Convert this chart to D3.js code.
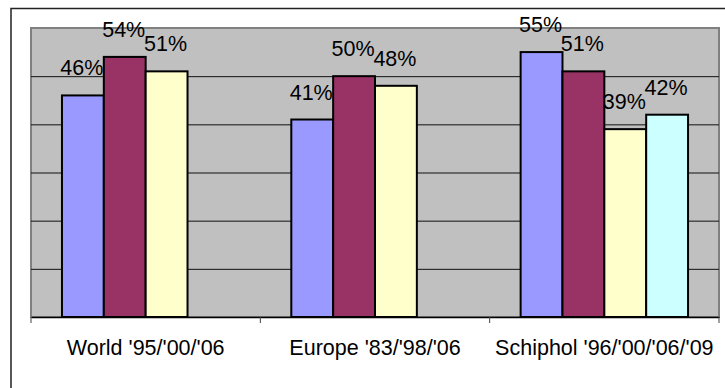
<!DOCTYPE html>
<html>
<head>
<meta charset="utf-8">
<script src="https://cdn.jsdelivr.net/npm/d3@7"></script>
<style>
  html, body { margin: 0; padding: 0; background: #fff; }
  svg { display: block; }
  text { font-family: "Liberation Sans", Arial, sans-serif; }
</style>
</head>
<body>
<svg id="chart" width="725" height="388"></svg>
<script>
// Categories along the x axis
const categories = ["World '95/'00/'06", "Europe '83/'98/'06", "Schiphol '96/'00/'06/'09"];

// Share (%) per survey year; each category has up to four surveys
const survey1 = [46, 41, 55];
const survey2 = [54, 50, 51];
const survey3 = [51, 48, 39];
const survey4 = [null, null, 42];

const seriesKeys = ["survey1", "survey2", "survey3", "survey4"];
const seriesValues = [survey1, survey2, survey3, survey4];
const seriesColors = ["#9999FF", "#993366", "#FFFFCC", "#CCFFFF"];

// Gridline positions (percent)
const gridTicks = [0, 10, 20, 30, 40, 50, 60];

const svg = d3.select("#chart");
const fontSize = 21.5;

// Plot area bounds
const plotLeft = 31, plotRight = 719, plotTop = 28, plotBottom = 317;

// Chart area frame
svg.append("rect")
  .attr("x", 11).attr("y", 8.5)
  .attr("width", 725).attr("height", 400)
  .attr("fill", "#fff")
  .attr("stroke", "#222").attr("stroke-width", 1.5);

const x0 = d3.scaleBand().domain(categories).range([plotLeft, plotRight]).paddingInner(0).paddingOuter(0);
const x1 = d3.scaleBand().domain(seriesKeys).range([0, x0.bandwidth()]).paddingInner(0).paddingOuter(0.74);
const y = d3.scaleLinear().domain([0, 60]).range([plotBottom, plotTop]);

// Plot area background and border
svg.append("rect")
  .attr("x", plotLeft).attr("y", plotTop)
  .attr("width", plotRight - plotLeft).attr("height", plotBottom - plotTop)
  .attr("fill", "#C0C0C0")
  .attr("stroke", "#808080").attr("stroke-width", 2);

// Horizontal gridlines
svg.append("g")
  .attr("transform", `translate(${plotLeft},0)`)
  .call(d3.axisLeft(y).tickValues(gridTicks.slice(1, -1)).tickSize(-(plotRight - plotLeft)).tickFormat(""))
  .call(g => g.select(".domain").remove())
  .call(g => g.selectAll(".tick line").attr("stroke", "#111").attr("stroke-width", 1));

// Bars
const rows = categories.map((c, i) => ({
  category: c,
  values: seriesKeys.map((k, j) => ({ key: k, value: seriesValues[j][i], color: seriesColors[j] }))
    .filter(d => d.value != null)
}));

const groups = svg.append("g").selectAll("g")
  .data(rows).join("g")
  .attr("transform", d => `translate(${x0(d.category)},0)`);

groups.selectAll("rect")
  .data(d => d.values).join("rect")
  .attr("x", d => x1(d.key))
  .attr("y", d => y(d.value))
  .attr("width", x1.bandwidth())
  .attr("height", d => y(0) - y(d.value))
  .attr("fill", d => d.color)
  .attr("stroke", "#000").attr("stroke-width", 2);

// Value labels
groups.selectAll("text")
  .data(d => d.values).join("text")
  .attr("x", d => x1(d.key) + x1.bandwidth() / 2 - 1)
  .attr("y", d => y(d.value) - 20)
  .attr("text-anchor", "middle")
  .attr("font-size", fontSize)
  .attr("fill", "#000")
  .text(d => d.value + "%");

// Category axis
const xAxis = svg.append("g")
  .attr("transform", `translate(0,${plotBottom})`)
  .call(d3.axisBottom(x0).tickSize(0).tickPadding(0));
xAxis.select(".domain").attr("stroke", "#000").attr("stroke-width", 1.5);
xAxis.selectAll(".tick line").remove();
xAxis.selectAll(".tick text")
  .attr("dy", null).attr("y", 38)
  .attr("font-size", fontSize)
  .attr("font-family", "Liberation Sans, Arial, sans-serif")
  .attr("fill", "#000");

// Category boundary tick marks
const boundaries = categories.map(c => x0(c)).concat([x0.range()[1]]);
xAxis.append("g").selectAll("line")
  .data(boundaries).join("line")
  .attr("x1", d => d).attr("x2", d => d)
  .attr("y1", 0).attr("y2", 6)
  .attr("stroke", "#444").attr("stroke-width", 1);
</script>
</body>
</html>
